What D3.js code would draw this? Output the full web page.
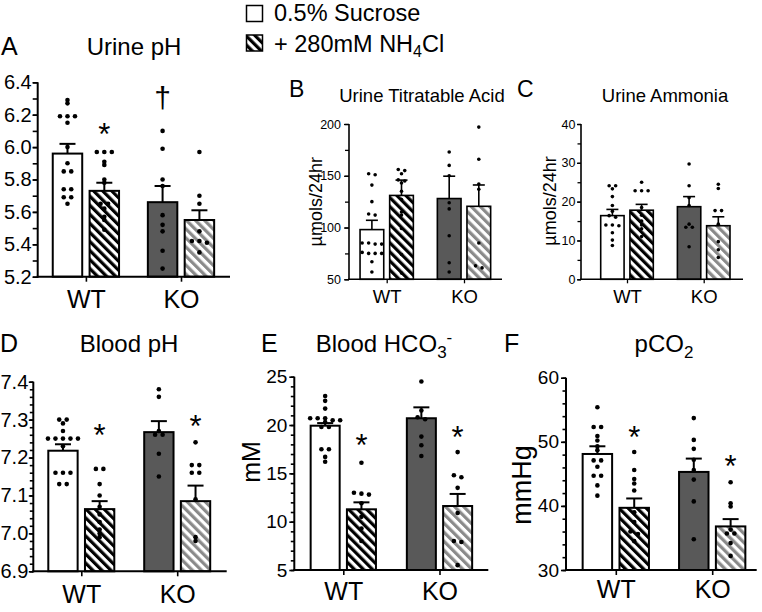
<!DOCTYPE html>
<html><head><meta charset="utf-8">
<script src="https://cdn.jsdelivr.net/npm/d3@7"></script>
<style>body{margin:0;background:#fff}svg{display:block}</style>
</head><body><svg id="c" width="762" height="612"></svg>
<script>
const FONT = '"Liberation Sans", Arial, Helvetica, sans-serif';
const groups = ["WT", "KO"];
const conditions = ["suc", "nh4"];
const legendLabels = ["0.5% Sucrose", "+ 280mM NH", "4", "Cl"];

// A: Urine pH  (order of means/sem: WT suc, WT nh4, KO suc, KO nh4)
const urinePH_ticks = [5.2, 5.4, 5.6, 5.8, 6.0, 6.2, 6.4];
const urinePH_mean = [5.96, 5.73, 5.66, 5.55];
const urinePH_sem = [0.06, 0.05, 0.10, 0.06];
const urinePH_WT_suc = [6.29, 6.27, 6.19, 6.19, 6.19, 6.15, 6.00, 5.90, 5.85, 5.85, 5.74, 5.74, 5.69, 5.69, 5.65];
const urinePH_WT_nh4 = [5.97, 5.97, 5.97, 5.91, 5.89, 5.80, 5.78, 5.65, 5.65, 5.62, 5.57, 5.55, 5.49];
const urinePH_KO_suc = [6.10, 5.99, 5.80, 5.76, 5.58, 5.52, 5.48, 5.36, 5.25];
const urinePH_KO_nh4 = [5.97, 5.70, 5.65, 5.48, 5.42, 5.42, 5.41, 5.35];

// B: Urine titratable acid
const uta_ticks = [50, 100, 150, 200];
const uta_mean = [98, 131, 128, 120.5];
const uta_sem = [9, 14.8, 21.6, 20.6];
const uta_WT_suc = [152, 151, 141, 125, 113, 112, 85, 85, 84, 84, 76, 75, 75, 75, 67, 57];
const uta_WT_nh4 = [156, 155, 152, 146, 145, 143, 135, 127, 115, 112, 99, 74, 56];
const uta_KO_suc = [173, 160, 150, 124, 118, 92, 66, 57];
const uta_KO_nh4 = [197, 166, 142, 137, 85, 63, 61];

// C: Urine ammonia
const uam_ticks = [0, 10, 20, 30, 40];
const uam_mean = [16.4, 17.8, 18.7, 13.8];
const uam_sem = [1.6, 1.5, 2.6, 2.3];
const uam_WT_suc = [24.1, 24.1, 23.3, 21.3, 19.0, 17.5, 16.4, 16.0, 14.0, 14.0, 13.8, 12.0, 10.1, 8.7];
const uam_WT_nh4 = [25.0, 22.8, 22.8, 22.8, 18.5, 16.5, 15.0, 14.0, 13.0, 11.0];
const uam_KO_suc = [29.7, 24.1, 21.0, 19.0, 14.2, 13.4, 13.4, 8.4];
const uam_KO_nh4 = [24.5, 23.4, 17.7, 17.7, 14.2, 9.7, 7.6, 5.6];

// D: Blood pH
const bph_ticks = [6.9, 7.0, 7.1, 7.2, 7.3, 7.4];
const bph_mean = [7.218, 7.064, 7.267, 7.085];
const bph_sem = [0.017, 0.021, 0.029, 0.041];
const bph_WT_suc = [7.30, 7.30, 7.29, 7.27, 7.25, 7.25, 7.25, 7.25, 7.25, 7.23, 7.16, 7.16, 7.16, 7.13, 7.13];
const bph_WT_nh4 = [7.17, 7.17, 7.13, 7.10, 7.07, 7.05, 7.03, 7.01, 7.00, 6.99];
const bph_KO_suc = [7.38, 7.36, 7.27, 7.26, 7.26, 7.21, 7.15];
const bph_KO_nh4 = [7.24, 7.18, 7.18, 7.16, 7.16, 7.09, 6.99, 6.98];

// E: Blood HCO3-
const hco_ticks = [5, 10, 15, 20, 25];
const hco_mean = [19.93, 11.28, 20.7, 11.62];
const hco_sem = [0.27, 0.72, 1.13, 1.25];
const hco_WT_suc = [23.0, 22.5, 21.7, 20.7, 20.7, 20.7, 20.5, 20.5, 20.3, 19.8, 19.8, 17.5, 17.5, 16.7, 16.2];
const hco_WT_nh4 = [16.1, 13.0, 12.9, 12.8, 11.9, 10.5, 9.3, 8.0];
const hco_KO_suc = [24.5, 21.5, 20.8, 20.6, 18.8, 17.9, 16.8];
const hco_KO_nh4 = [17.2, 14.8, 14.6, 13.5, 10.9, 8.0, 7.9, 5.5];

// F: pCO2
const pco_ticks = [30, 40, 50, 60];
const pco_mean = [48.1, 39.7, 45.3, 36.8];
const pco_sem = [1.2, 1.46, 2.08, 1.14];
const pco_WT_suc = [55.4, 52.3, 52.3, 50.9, 50.2, 49.3, 48.7, 47.1, 47.1, 46.1, 44.7, 44.7, 43.2, 41.6];
const pco_WT_nh4 = [48.4, 45.6, 44.2, 43.5, 42.4, 39.0, 37.5, 36.0, 35.6, 34.5];
const pco_KO_suc = [53.7, 50.3, 48.9, 47.2, 45.6, 44.1, 40.7, 34.8];
const pco_KO_nh4 = [43.7, 40.4, 39.9, 36.3, 35.7, 35.7, 34.2, 32.2];

// significance marks (value = vertical centre of symbol)
const urinePH_marks = [{g: "WT", c: "nh4", s: "*", v: 6.126}, {g: "KO", c: "suc", s: "†", v: 6.30}];
const bph_marks = [{g: "WT", c: "nh4", s: "*", v: 7.277}, {g: "KO", c: "nh4", s: "*", v: 7.301}];
const hco_marks = [{g: "WT", c: "nh4", s: "*", v: 18.63}, {g: "KO", c: "nh4", s: "*", v: 19.49}];
const pco_marks = [{g: "WT", c: "nh4", s: "*", v: 51.84}, {g: "KO", c: "nh4", s: "*", v: 47.27}];

const svg = d3.select("#c");
const defs = svg.append("defs");
function hatch(id, color) {
  const p = defs.append("pattern").attr("id", id).attr("patternUnits", "userSpaceOnUse")
    .attr("width", 6.4).attr("height", 6.4).attr("patternTransform", "rotate(-45)");
  p.append("rect").attr("width", 6.4).attr("height", 6.4).attr("fill", "#fff");
  p.append("rect").attr("width", 3.2).attr("height", 6.4).attr("fill", color);
}
hatch("hBlack", "#000");
hatch("hGray", "#8a8a8a");
const fills = ["#fff", "url(#hBlack)", "#595959", "url(#hGray)"];

function txt(g, x, y, size, segs, anchor) {
  const t = g.append("text").attr("x", x).attr("y", y).attr("font-family", FONT)
    .attr("font-size", size).attr("text-anchor", anchor || "start").attr("fill", "#000");
  segs.forEach(s => {
    const ts = t.append("tspan").text(s.t);
    if (s.dy) ts.attr("dy", s.dy);
    if (s.size) ts.attr("font-size", s.size);
  });
  return t;
}

function drawPanel(P) {
  const L = P.L;
  const g = svg.append("g");
  const y = d3.scaleLinear().domain(P.domain).range([L.bottom, L.top]);
  const x = d3.scalePoint().domain(groups).range([L.gx0, L.gx1]).padding(0.5);
  const xs = d3.scaleBand().domain(conditions).range([-L.pairW / 2, L.pairW / 2]).paddingInner(0.2);
  const bw = xs.bandwidth();

  // minor ticks
  const nMin = Math.round((P.domain[1] - P.domain[0]) / P.minorStep);
  const minor = d3.range(nMin + 1).map(i => +(P.domain[0] + i * P.minorStep).toFixed(4));
  const ym = g.append("g").attr("transform", `translate(${L.left},0)`)
    .call(d3.axisLeft(y).tickValues(minor).tickSize(L.minorLen).tickSizeOuter(0).tickFormat(""));
  ym.select(".domain").remove();
  ym.selectAll("line").attr("stroke-width", L.tickW);
  // major ticks
  const ya = g.append("g").attr("transform", `translate(${L.left},0)`)
    .call(d3.axisLeft(y).tickValues(P.ticks).tickSize(L.tickLen).tickSizeOuter(0).tickPadding(L.tickPad).tickFormat(d3.format(P.fmt)));
  ya.attr("font-family", FONT).attr("font-size", L.tickFont);
  ya.select(".domain").remove();
  ya.selectAll("line").attr("stroke-width", L.tickW);
  ya.selectAll("text").attr("fill", "#000");

  // bars
  const series = P.pts;
  groups.forEach((gr, gi) => conditions.forEach((c, ci) => {
    const k = gi * 2 + ci;
    const m = P.mean[k];
    g.append("rect").attr("x", x(gr) + xs(c)).attr("width", bw)
      .attr("y", y(m)).attr("height", y(P.domain[0]) - y(m))
      .attr("fill", fills[k]).attr("stroke", "#000").attr("stroke-width", L.barSW);
  }));
  // error bars
  groups.forEach((gr, gi) => conditions.forEach((c, ci) => {
    const k = gi * 2 + ci;
    const cx = x(gr) + xs(c) + bw / 2;
    const m = P.mean[k], e = m + P.sem[k];
    g.append("line").attr("x1", cx).attr("x2", cx).attr("y1", y(m)).attr("y2", y(e))
      .attr("stroke", "#000").attr("stroke-width", L.errSW);
    g.append("line").attr("x1", cx - L.capW / 2).attr("x2", cx + L.capW / 2).attr("y1", y(e)).attr("y2", y(e))
      .attr("stroke", "#000").attr("stroke-width", L.errSW);
  }));
  // dots
  groups.forEach((gr, gi) => conditions.forEach((c, ci) => {
    const k = gi * 2 + ci;
    const cx = x(gr) + xs(c) + bw / 2;
    const pts = series[k].map(v => ({v, y: y(v)})).sort((a, b) => a.y - b.y);
    const rows = [];
    pts.forEach(p => {
      const r = rows[rows.length - 1];
      if (r && Math.abs(p.y - r[0].y) < L.rowThr) r.push(p); else rows.push([p]);
    });
    rows.forEach(r => r.forEach((p, i) => { p.x = cx + (i - (r.length - 1) / 2) * L.spacing; }));
    g.selectAll(null).data(pts).enter().append("circle")
      .attr("cx", d => d.x).attr("cy", d => d.y).attr("r", L.dotR).attr("fill", "#000");
  }));

  // axis lines
  g.append("line").attr("x1", L.left).attr("x2", L.left).attr("y1", y(P.domain[1])).attr("y2", L.bottom + L.axW / 2)
    .attr("stroke", "#000").attr("stroke-width", L.axW);
  g.append("line").attr("x1", L.left - L.axW / 2).attr("x2", L.right).attr("y1", L.bottom).attr("y2", L.bottom)
    .attr("stroke", "#000").attr("stroke-width", L.axW);
  // x ticks + labels
  const xa = g.append("g").attr("transform", `translate(0,${L.bottom})`)
    .call(d3.axisBottom(x).tickSize(L.xTickLen).tickSizeOuter(0));
  xa.select(".domain").remove();
  xa.selectAll("line").attr("stroke-width", L.tickW);
  xa.attr("font-family", FONT).attr("font-size", L.xFont);
  xa.selectAll("text").attr("dy", 0).attr("y", L.xBase - L.bottom).attr("fill", "#000");

  // titles
  txt(g, L.letterX, L.letterY, L.letterFont, [{t: P.key}]);
  txt(g, L.titleX, L.titleY, L.titleFont, P.title, "middle");
  if (P.ylab) {
    g.append("text").attr("transform", `translate(${L.ylabX},${L.ylabY}) rotate(-90)`)
      .attr("text-anchor", "middle").attr("dy", "0.3em").attr("font-family", FONT)
      .attr("font-size", L.ylabFont).text(P.ylab);
  }
  // marks
  (P.marks || []).forEach(mk => {
    const cx = x(mk.g) + xs(mk.c) + bw / 2;
    g.append("text").attr("x", cx).attr("y", y(mk.v)).attr("text-anchor", "middle")
      .attr("dy", mk.s === "*" ? "0.58em" : "0.3em")
      .attr("font-family", FONT).attr("font-size", mk.s === "*" ? 31 : 30).text(mk.s);
  });
}

const big = {tickW: 1.6, axW: 2, barSW: 2, errSW: 2, xTickLen: 5, dotR: 2.3, spacing: 7.5, rowThr: 3, capW: 16, xFont: 25, titleFont: 24, letterFont: 25};
const small = {tickW: 1.3, axW: 1.6, barSW: 1.6, errSW: 1.6, xTickLen: 4, dotR: 1.8, spacing: 6.5, rowThr: 2.5, capW: 12, xFont: 18.5, titleFont: 18.5, letterFont: 23};

const panels = [
  {key: "A", title: [{t: "Urine pH"}], domain: [5.2, 6.4], ticks: urinePH_ticks, minorStep: 0.1, fmt: ".1f",
   mean: urinePH_mean, sem: urinePH_sem, pts: [urinePH_WT_suc, urinePH_WT_nh4, urinePH_KO_suc, urinePH_KO_nh4], marks: urinePH_marks,
   L: Object.assign({}, big, {left: 37.7, right: 230, top: 82.3, bottom: 276.7, gx0: 38.35, gx1: 228.55, pairW: 66.3,
     tickLen: 5, minorLen: 5, tickPad: 1, tickFont: 20, xBase: 308.3, titleX: 134, titleY: 55, letterX: 1, letterY: 55})},
  {key: "B", title: [{t: "Urine Titratable Acid"}], domain: [50, 200], ticks: uta_ticks, minorStep: 25, fmt: "d",
   mean: uta_mean, sem: uta_sem, pts: [uta_WT_suc, uta_WT_nh4, uta_KO_suc, uta_KO_nh4], ylab: "µmols/24hr",
   L: Object.assign({}, small, {left: 349, right: 502, top: 124, bottom: 279.3, gx0: 348.05, gx1: 502.65, pairW: 53.3,
     tickLen: 5, minorLen: 4, tickPad: 3, tickFont: 12.5, xBase: 303.3, titleX: 422, titleY: 101.7, letterX: 289, letterY: 96.7,
     ylabX: 317, ylabY: 201.7, ylabFont: 18})},
  {key: "C", title: [{t: "Urine Ammonia"}], domain: [0, 40], ticks: uam_ticks, minorStep: 5, fmt: "d",
   mean: uam_mean, sem: uam_sem, pts: [uam_WT_suc, uam_WT_nh4, uam_KO_suc, uam_KO_nh4], ylab: "µmols/24hr",
   L: Object.assign({}, small, {left: 581, right: 743, top: 124, bottom: 279.3, gx0: 588.65, gx1: 742.05, pairW: 52.6,
     tickLen: 4, minorLen: 3.5, tickPad: 1.5, tickFont: 12.5, xBase: 303.3, titleX: 665, titleY: 101.7, letterX: 517, letterY: 96.7,
     ylabX: 551, ylabY: 201, ylabFont: 18})},
  {key: "D", title: [{t: "Blood pH"}], domain: [6.9, 7.4], ticks: bph_ticks, minorStep: 0.02, fmt: ".1f",
   mean: bph_mean, sem: bph_sem, pts: [bph_WT_suc, bph_WT_nh4, bph_KO_suc, bph_KO_nh4], marks: bph_marks,
   L: Object.assign({}, big, {left: 33.3, right: 226.7, top: 381.7, bottom: 571.3, gx0: 33.35, gx1: 225.15, pairW: 66,
     tickLen: 4.5, minorLen: 3.5, tickPad: 0.5, tickFont: 20, xBase: 603.3, titleX: 129, titleY: 351.7, letterX: 0, letterY: 351.7})},
  {key: "E", title: [{t: "Blood HCO"}, {t: "3", dy: 6, size: 17}, {t: "-", dy: -15, size: 17}], domain: [5, 25], ticks: hco_ticks, minorStep: 1, fmt: "d",
   mean: hco_mean, sem: hco_sem, pts: [hco_WT_suc, hco_WT_nh4, hco_KO_suc, hco_KO_nh4], marks: hco_marks, ylab: "mM",
   L: Object.assign({}, big, {left: 294.3, right: 488.3, top: 376.7, bottom: 570, gx0: 295.2, gx1: 487.6, pairW: 65.3,
     tickLen: 5, minorLen: 3.5, tickPad: 2, tickFont: 19, xBase: 600, titleX: 384, titleY: 351.7, letterX: 261, letterY: 351.7,
     ylabX: 252, ylabY: 462, ylabFont: 25})},
  {key: "F", title: [{t: "pCO"}, {t: "2", dy: 6, size: 17}], domain: [30, 60], ticks: pco_ticks, minorStep: 2, fmt: "d",
   mean: pco_mean, sem: pco_sem, pts: [pco_WT_suc, pco_WT_nh4, pco_KO_suc, pco_KO_nh4], marks: pco_marks, ylab: "mmHg",
   L: Object.assign({}, big, {left: 566, right: 756.7, top: 377.7, bottom: 570, gx0: 567.6, gx1: 760.4, pairW: 66.3,
     tickLen: 5, minorLen: 3.5, tickPad: 2, tickFont: 19, xBase: 598.3, titleX: 664, titleY: 351.7, letterX: 504, letterY: 351.7,
     ylabX: 523, ylabY: 485, ylabFont: 27})}
];
panels.forEach(drawPanel);

// legend
const lg = svg.append("g");
lg.append("rect").attr("x", 246.5).attr("y", 5.5).attr("width", 16).attr("height", 16)
  .attr("fill", fills[0]).attr("stroke", "#000").attr("stroke-width", 1.5);
lg.append("rect").attr("x", 246.5).attr("y", 35).attr("width", 16).attr("height", 16)
  .attr("fill", fills[1]).attr("stroke", "#000").attr("stroke-width", 1.5);
txt(lg, 274, 21, 23.5, [{t: legendLabels[0]}]);
txt(lg, 274, 52, 23.5, [{t: legendLabels[1]}, {t: legendLabels[2], dy: 5, size: 16}, {t: legendLabels[3], dy: -5}]);
</script>
</body></html>
